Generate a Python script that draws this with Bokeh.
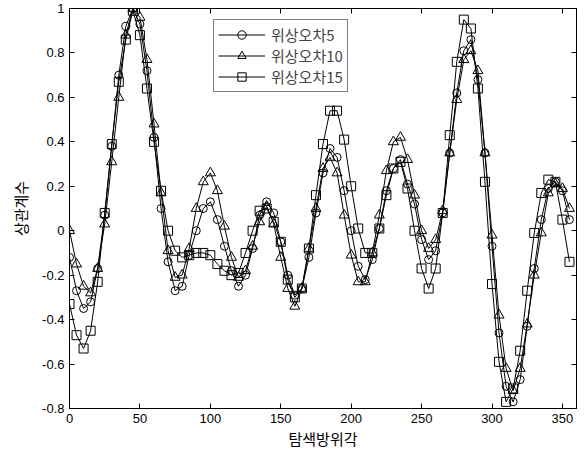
from bokeh.plotting import figure
from bokeh.models import (LinearAxis, FixedTicker, CustomJSTickFormatter, Range1d,
                          Legend, LegendItem, ColumnDataSource)
from bokeh.embed import file_html
from bokeh.resources import INLINE

angles = list(range(0, 360, 5))

corr_err5 = [-0.12, -0.27, -0.35, -0.32, -0.17, 0.07, 0.38, 0.70, 0.92, 1.00,
             0.93, 0.72, 0.42, 0.10, -0.14, -0.27, -0.25, -0.11, 0.00, 0.10,
             0.13, 0.05, -0.07, -0.18, -0.25, -0.20, -0.08, 0.07, 0.13, 0.08,
             -0.05, -0.20, -0.29, -0.26, -0.12, 0.08, 0.26, 0.37, 0.33, 0.18,
             0.00, -0.16, -0.22, -0.13, 0.01, 0.18, 0.28, 0.32, 0.21, 0.12,
             -0.04, -0.13, -0.09, 0.08, 0.35, 0.62, 0.81, 0.86, 0.68, 0.35,
             -0.07, -0.46, -0.70, -0.77, -0.67, -0.43, -0.17, 0.05, 0.19, 0.22,
             0.18, 0.05]

corr_err10 = [0.00, -0.15, -0.25, -0.28, -0.17, 0.03, 0.31, 0.60, 0.88, 1.00,
              0.96, 0.77, 0.48, 0.17, -0.09, -0.21, -0.20, -0.08, 0.10, 0.22,
              0.26, 0.18, 0.02, -0.12, -0.21, -0.18, -0.07, 0.04, 0.11, 0.03,
              -0.12, -0.26, -0.34, -0.26, -0.08, 0.10, 0.28, 0.33, 0.26, 0.07,
              -0.11, -0.23, -0.23, -0.10, 0.07, 0.27, 0.40, 0.42, 0.32, 0.16,
              0.00, -0.08, -0.04, 0.09, 0.35, 0.59, 0.77, 0.81, 0.72, 0.35,
              -0.02, -0.38, -0.62, -0.72, -0.62, -0.42, -0.20, -0.01, 0.17, 0.21,
              0.19, 0.10]

corr_err15 = [-0.33, -0.47, -0.53, -0.45, -0.23, 0.08, 0.39, 0.67, 0.86, 0.99,
              0.88, 0.64, 0.40, 0.18, 0.00, -0.09, -0.12, -0.11, -0.10, -0.10,
              -0.11, -0.15, -0.18, -0.20, -0.19, -0.10, 0.00, 0.09, 0.10, 0.04,
              -0.05, -0.22, -0.30, -0.26, -0.08, 0.16, 0.39, 0.54, 0.54, 0.41,
              0.20, 0.01, -0.10, -0.10, 0.01, 0.16, 0.28, 0.31, 0.19, 0.00,
              -0.17, -0.26, -0.17, 0.08, 0.43, 0.76, 0.95, 0.91, 0.64, 0.22,
              -0.24, -0.59, -0.77, -0.71, -0.54, -0.27, -0.01, 0.17, 0.23, 0.22,
              0.05, -0.14]

series_labels = ["위상오차5", "위상오차10", "위상오차15"]
series_markers = ["circle", "triangle", "square"]
x_ticks = [0, 50, 100, 150, 200, 250, 300, 350]
y_ticks = [-0.8, -0.6, -0.4, -0.2, 0, 0.2, 0.4, 0.6, 0.8, 1]
x_title = "탐색방위각"
y_title = "상관계수"

KFONT = "Noto Sans CJK KR"
NFONT = "Liberation Sans"

p = figure(width=587, height=451, output_backend="svg", toolbar_location=None,
           x_range=Range1d(0, 360), y_range=Range1d(-0.8, 1),
           min_border_left=69, min_border_right=11, min_border_top=8,
           min_border_bottom=43, x_axis_location=None, y_axis_location=None)
p.xgrid.visible = False
p.ygrid.visible = False
p.outline_line_color = "black"
p.outline_line_width = 1
p.background_fill_color = "white"
p.border_fill_color = "white"

fmt = CustomJSTickFormatter(code="return String(Number(tick.toFixed(1)));")
blank_fmt = CustomJSTickFormatter(code="return '';")


def style_axis(ax, show_labels):
    ax.axis_line_color = "black"
    ax.major_tick_line_color = "black"
    ax.major_tick_in = 5
    ax.major_tick_out = 0
    ax.minor_tick_line_color = None
    ax.major_label_text_font = NFONT
    ax.major_label_text_color = "black"
    ax.major_label_text_font_size = "13px"
    ax.major_label_standoff = 5 if show_labels else 0
    ax.axis_label_text_font = KFONT
    ax.axis_label_text_font_style = "normal"
    ax.axis_label_text_font_size = "15px"
    ax.axis_label_text_color = "black"


xb = LinearAxis(ticker=FixedTicker(ticks=x_ticks), axis_label=x_title,
                axis_label_standoff=2)
style_axis(xb, True)
p.add_layout(xb, "below")
xt = LinearAxis(ticker=FixedTicker(ticks=x_ticks), formatter=blank_fmt)
style_axis(xt, False)
p.add_layout(xt, "above")
yl = LinearAxis(ticker=FixedTicker(ticks=y_ticks), formatter=fmt,
                axis_label=y_title, axis_label_standoff=8)
style_axis(yl, True)
p.add_layout(yl, "left")
yr = LinearAxis(ticker=FixedTicker(ticks=y_ticks), formatter=blank_fmt)
style_axis(yr, False)
p.add_layout(yr, "right")

items = []
for vals, lab, mk in zip([corr_err5, corr_err10, corr_err15], series_labels, series_markers):
    src = ColumnDataSource(dict(x=angles, y=vals))
    ln = p.line("x", "y", source=src, line_color="black", line_width=1)
    size = {"circle": 8, "triangle": 10, "square": 9}[mk]
    sc = p.scatter("x", "y", source=src, marker=mk, size=size,
                   fill_color=None, line_color="black", line_width=1)
    items.append(LegendItem(label=lab, renderers=[ln, sc]))

legend = Legend(items=items, location=(144, 316), border_line_color="black",
                border_line_width=1, background_fill_color="white",
                background_fill_alpha=1, label_text_font=KFONT,
                label_text_font_size="15px", glyph_width=47, glyph_height=21,
                label_height=21, spacing=0, padding=4, margin=0,
                label_standoff=6)
p.add_layout(legend)

open("out.html", "w").write(file_html(p, INLINE))
